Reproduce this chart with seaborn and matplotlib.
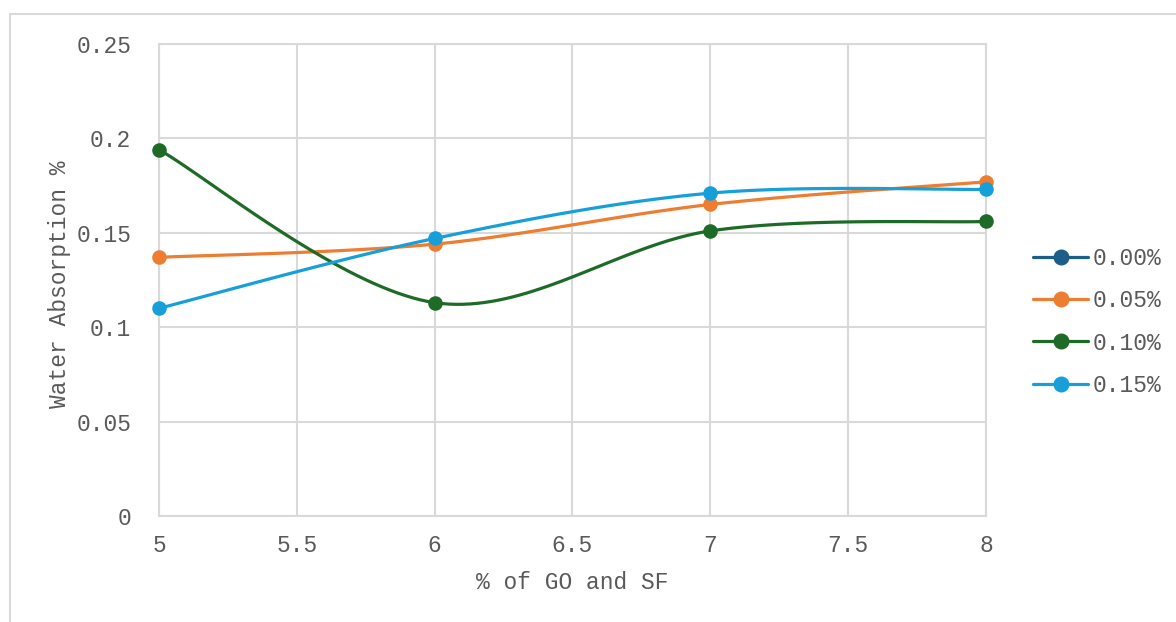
import numpy as np
import pandas as pd
import seaborn as sns
import matplotlib.pyplot as plt
from matplotlib.lines import Line2D
from matplotlib.patches import Rectangle

# data
go_sf = [5, 6, 7, 8]
series_names = ["0.00%", "0.05%", "0.10%", "0.15%"]
wa_000 = []  # shown in legend only, no points drawn
wa_005 = [0.137, 0.144, 0.165, 0.177]
wa_010 = [0.194, 0.113, 0.151, 0.156]
wa_015 = [0.110, 0.147, 0.171, 0.173]
colors = ["#1B5E8A", "#ED7D31", "#1E6B28", "#169FD9"]

x_ticks = [5, 5.5, 6, 6.5, 7, 7.5, 8]
x_labels = ["5", "5.5", "6", "6.5", "7", "7.5", "8"]
y_ticks = [0, 0.05, 0.1, 0.15, 0.2, 0.25]
y_labels = ["0", "0.05", "0.1", "0.15", "0.2", "0.25"]


def smooth(xs, ys, n=40):
    # Excel-like smoothed line: cubic bezier with catmull-rom control points
    pts = np.column_stack([xs, ys]).astype(float)
    out = []
    for i in range(len(pts) - 1):
        p0 = pts[max(i - 1, 0)]
        p1 = pts[i]
        p2 = pts[i + 1]
        p3 = pts[min(i + 2, len(pts) - 1)]
        c1 = p1 + (p2 - p0) / 6
        c2 = p2 - (p3 - p1) / 6
        t = np.linspace(0, 1, n)[:, None]
        seg = ((1 - t) ** 3) * p1 + 3 * ((1 - t) ** 2) * t * c1 + 3 * (1 - t) * t ** 2 * c2 + t ** 3 * p2
        out.append(seg if i == 0 else seg[1:])
    seg = np.vstack(out)
    return seg[:, 0], seg[:, 1]


sns.set_style("white")
plt.rcParams["font.family"] = ["Liberation Mono", "DejaVu Sans Mono"]
text_col = "#595959"
grid_col = "#D9D9D9"
fs = 16.5

fig = plt.figure(figsize=(11.76, 6.22), dpi=100)
ax = fig.add_axes([159 / 1176, 1 - 516 / 622, 827 / 1176, 472 / 622])

all_vals = [wa_000, wa_005, wa_010, wa_015]
for name, vals, col in zip(series_names, all_vals, colors):
    if len(vals) == 0:
        continue
    sx, sy = smooth(go_sf, vals)
    curve = pd.DataFrame({"x": sx, "y": sy})
    sns.lineplot(data=curve, x="x", y="y", ax=ax, color=col, linewidth=2.3,
                 sort=False, estimator=None, zorder=3)
    pts = pd.DataFrame({"x": go_sf, "y": vals})
    sns.scatterplot(data=pts, x="x", y="y", ax=ax, color=col, s=110,
                    edgecolor=col, linewidth=0, zorder=4, clip_on=False)

ax.set_xlim(5, 8)
ax.set_ylim(0, 0.25)
ax.set_xticks(x_ticks)
ax.set_xticklabels(x_labels)
ax.set_yticks(y_ticks)
ax.set_yticklabels(y_labels)
ax.grid(True, color=grid_col, linewidth=1.5)
ax.set_axisbelow(True)
for s in ax.spines.values():
    s.set_color(grid_col)
    s.set_linewidth(1.5)
ax.tick_params(length=0, labelsize=fs, colors=text_col, pad=13)
ax.tick_params(axis="y", pad=20)

ax.set_xlabel("% of GO and SF", fontsize=fs, color=text_col)
ax.set_ylabel("Water Absorption %", fontsize=fs, color=text_col)
ax.xaxis.set_label_coords(0.5, (516 - 571) / 472)
ax.yaxis.set_label_coords((71 - 159) / 827, 0.49)

handles = [Line2D([], [], color=c, linewidth=2.3, marker="o", markersize=10.5)
           for c in colors]
leg = fig.legend(handles, series_names, loc="center left",
                 bbox_to_anchor=(1033 / 1176, 1 - 322 / 622),
                 bbox_transform=fig.transFigure, frameon=False,
                 fontsize=fs, handlelength=2.4, handletextpad=0.2,
                 labelspacing=0.83, borderpad=0, borderaxespad=0)
for t in leg.get_texts():
    t.set_color(text_col)

# outer chart border (clipped at right and bottom like the screenshot)
fig.patches.append(Rectangle((10 / 1176, -0.1), 1.2, 1.1 - 14 / 622,
                             transform=fig.transFigure, fill=False,
                             edgecolor=grid_col, linewidth=1.5))

fig.savefig("out.png", dpi=100)
